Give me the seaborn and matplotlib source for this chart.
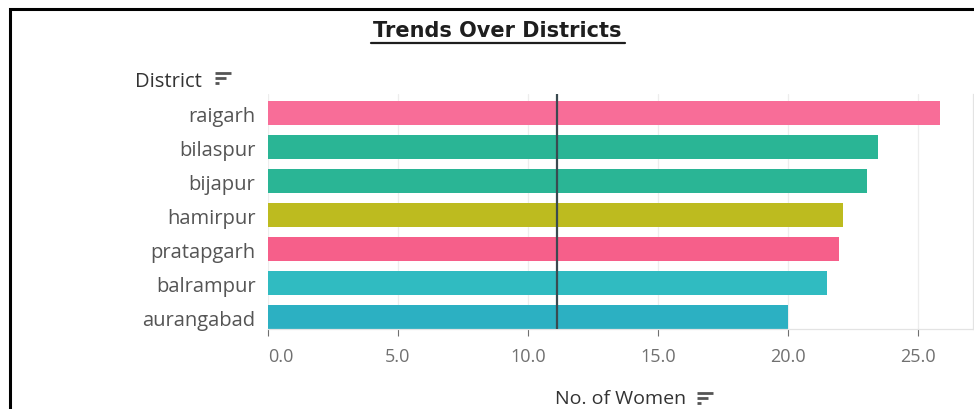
import matplotlib
matplotlib.use("Agg")
import matplotlib.pyplot as plt
from matplotlib.lines import Line2D
from matplotlib.patches import Rectangle
import seaborn as sns
import pandas as pd

districts = ["raigarh", "bilaspur", "bijapur", "hamirpur", "pratapgarh", "balrampur", "aurangabad"]
women = [25.85, 23.45, 23.05, 22.1, 21.95, 21.5, 20.0]
colors = ["#F86D98", "#2AB595", "#2AB595", "#BDBB1F", "#F65F8A", "#30BBC1", "#2CB0C2"]
ref_value = 11.1
xticks = [0, 5, 10, 15, 20, 25]
xticklabels = ["0.0", "5.0", "10.0", "15.0", "20.0", "25.0"]

df = pd.DataFrame({"District": districts, "Women": women})

sns.set_theme(style="white")
plt.rcParams["font.family"] = ["Open Sans", "DejaVu Sans"]

W, H = 974, 410
fig = plt.figure(figsize=(W / 100, H / 100), dpi=100)
fig.patch.set_facecolor("white")

ax = fig.add_axes([268 / W, (H - 330) / H, 705 / W, 235 / H])
sns.barplot(data=df, y="District", x="Women", hue="District", palette=colors,
            order=districts, legend=False, width=0.71, ax=ax, saturation=1,
            edgecolor="none")
ax.set_xlim(0, 705 / 26)
ax.set_ylim(6.35, -0.56)
for t in xticks:
    ax.axvline(t, color="#EDEDED", lw=0.9, zorder=0)
ax.axvline(ref_value, color="#3A4A50", lw=1.6, zorder=5)

ax.set_xticks(xticks)
ax.set_xticklabels(xticklabels)
ax.get_xticklabels()[0].set_ha("left")
ax.tick_params(axis="x", labelsize=13, colors="#707070", length=5, width=0.8,
               pad=8, bottom=True, direction="out")
for tl in ax.xaxis.get_ticklines():
    tl.set_color("#DDDDDD")
ax.tick_params(axis="y", labelsize=14.5, colors="#555555", length=0, pad=9)
ax.set_xlabel("")
ax.set_ylabel("")
for name, s in ax.spines.items():
    if name in ("bottom", "right"):
        s.set_visible(True)
        s.set_color("#E3E3E3")
        s.set_linewidth(0.9)
    else:
        s.set_visible(False)

# figure frame
fig.add_artist(Rectangle((10 / W, -0.1), (W + 20) / W, (H - 10) / H + 0.1,
                         transform=fig.transFigure, fill=False, lw=2.2, ec="black"))

# title
fig.text(497 / W, 1 - 31 / H, "Trends Over Districts", ha="center", va="center",
         fontsize=15, fontweight="bold", color="#1E1E1E", family=["DejaVu Sans"])
fig.add_artist(Line2D([371 / W, 625 / W], [1 - 44 / H, 1 - 44 / H], color="#1E1E1E", lw=1.6))

fig.text(135 / W, 1 - 82 / H, "District", ha="left", va="center", fontsize=14.5, color="#333333")
fig.text(555 / W, 1 - 399 / H, "No. of Women", ha="left", va="center", fontsize=14, color="#333333")


def sort_icon(x, y):
    for i, ln in enumerate([16, 11, 4]):
        yy = 1 - (y + i * 5) / H
        fig.add_artist(Line2D([x / W, (x + ln) / W], [yy, yy], color="#555555", lw=2.0,
                              solid_capstyle="butt"))


sort_icon(215, 74)
sort_icon(697, 394)

fig.savefig("out.png", dpi=100, facecolor="white")
